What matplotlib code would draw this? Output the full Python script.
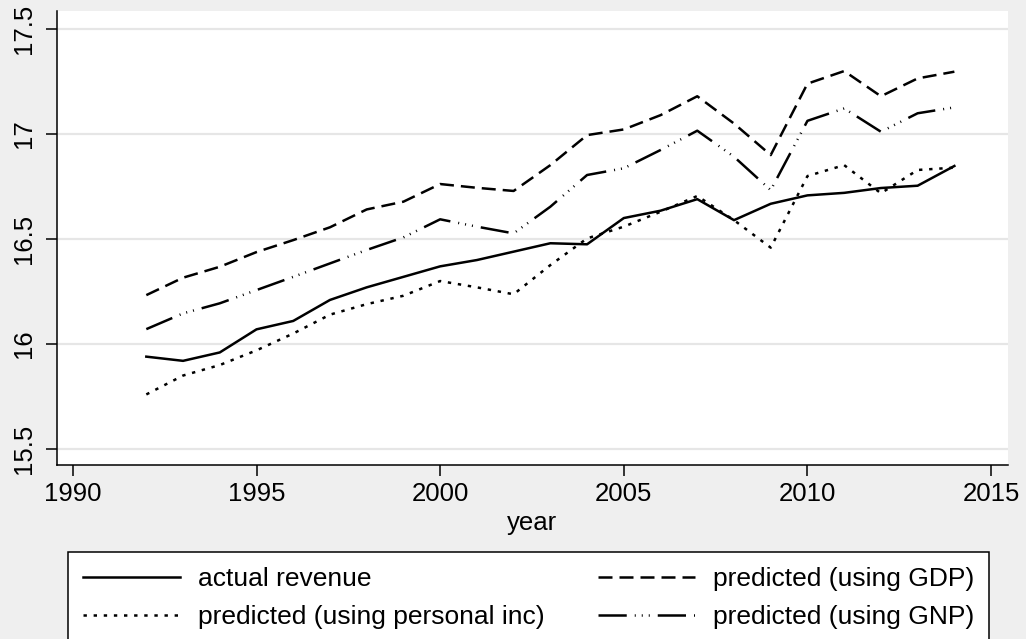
import numpy as np
import matplotlib.pyplot as plt

plt.rcParams['font.family'] = ['Liberation Sans', 'DejaVu Sans']

# datos
years = np.arange(1992, 2015)
actual = [15.94, 15.92, 15.96, 16.07, 16.11, 16.21, 16.27, 16.32, 16.37, 16.40, 16.44, 16.48,
          16.475, 16.60, 16.635, 16.69, 16.59, 16.668, 16.708, 16.72, 16.743, 16.754, 16.848]
pred_pinc = [15.76, 15.85, 15.90, 15.97, 16.05, 16.14, 16.19, 16.23, 16.30, 16.27, 16.237, 16.376,
             16.503, 16.559, 16.63, 16.705, 16.59, 16.459, 16.80, 16.852, 16.718, 16.829, 16.84]
pred_gdp = [16.233, 16.316, 16.368, 16.438, 16.495, 16.556, 16.641, 16.678, 16.762, 16.744, 16.729, 16.852,
            16.995, 17.022, 17.09, 17.18, 17.05, 16.90, 17.24, 17.30, 17.18, 17.265, 17.297]
pred_gnp = [16.071, 16.146, 16.194, 16.257, 16.32, 16.384, 16.448, 16.508, 16.594, 16.559, 16.527, 16.654,
            16.805, 16.837, 16.924, 17.016, 16.892, 16.733, 17.063, 17.122, 17.011, 17.099, 17.127]

labels = ["actual revenue", "predicted (using personal inc)",
          "predicted (using GDP)", "predicted (using GNP)"]

W, H = 1026, 639
fig = plt.figure(figsize=(W / 100, H / 100), dpi=100, facecolor='#efefef')
ax = fig.add_axes([56.7 / W, 1 - 465 / H, (1008 - 56.7) / W, (465 - 11) / H])
ax.set_facecolor('white')

lw = 1.8
l1, = ax.plot(years, actual, color='black', lw=lw, label=labels[0])
l2, = ax.plot(years, pred_pinc, color='black', lw=lw, dashes=(1.35, 2.7), label=labels[1])
l3, = ax.plot(years, pred_gdp, color='black', lw=lw, dashes=(5.6, 2.8), label=labels[2])
l4, = ax.plot(years, pred_gnp, color='black', lw=lw,
              dashes=(11.3, 3.2, 0.4, 2.4, 0.4, 2.4, 0.4, 3.2), label=labels[3])

ax.set_xlim(1989.56, 2015.46)
ax.set_ylim(15.424, 17.586)
ax.set_xticks(np.arange(1990, 2016, 5))
ax.set_yticks([15.5, 16, 16.5, 17, 17.5])
ax.set_yticklabels(['15.5', '16', '16.5', '17', '17.5'], rotation=90, va='center')

ax.grid(axis='y', color='#e6e6e6', lw=1.6)
ax.set_axisbelow(True)
for s in ['top', 'right']:
    ax.spines[s].set_visible(False)
for s in ['left', 'bottom']:
    ax.spines[s].set_linewidth(1.1)
ax.tick_params(axis='both', length=8, width=1.1, labelsize=18.5, direction='out')
ax.tick_params(axis='x', pad=4)
ax.tick_params(axis='y', pad=7)
ax.set_xlabel("year", fontsize=18.5, labelpad=4)

leg = fig.legend(handles=[l1, l2, l3, l4], ncol=2, loc='upper left',
                 bbox_to_anchor=(68.3 / W, 1 - 552.3 / H), fontsize=19,
                 handlelength=3.7, handletextpad=0.67, columnspacing=2.0,
                 labelspacing=0.53, borderpad=0.55, borderaxespad=0,
                 fancybox=False, framealpha=1, edgecolor='black')
leg.get_frame().set_linewidth(1.1)

fig.savefig('out.png', dpi=100, facecolor=fig.get_facecolor())
